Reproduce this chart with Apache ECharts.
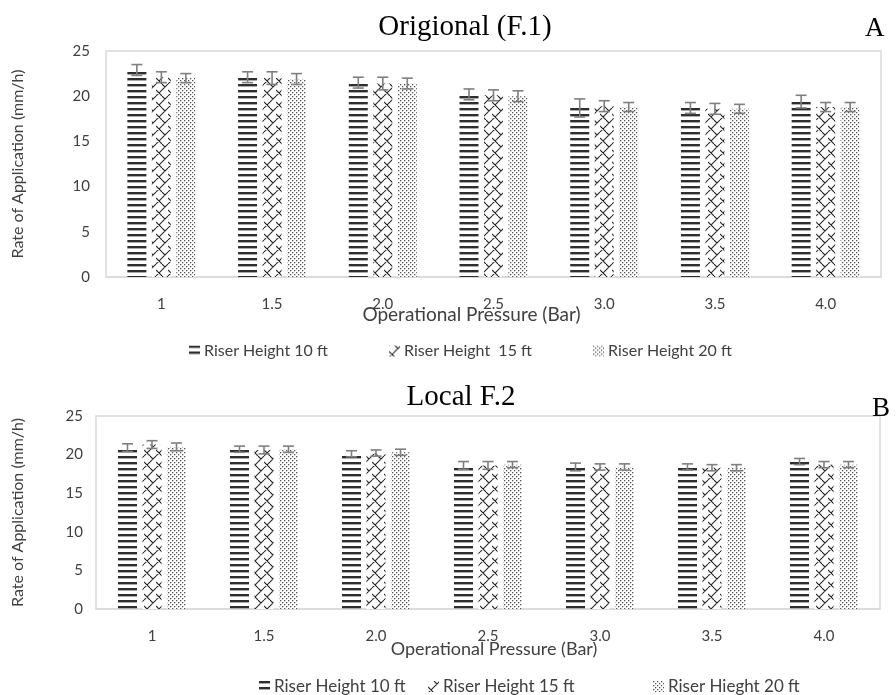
<!DOCTYPE html>
<html>
<head>
<meta charset="utf-8">
<script src="https://cdn.jsdelivr.net/npm/echarts@6/dist/echarts.min.js"></script>
<style>
  html, body { margin: 0; padding: 0; background: #fff; }
  #chart { width: 896px; height: 695px; }
</style>
</head>
<body>
<div id="chart"></div>
<script>
// Operating pressures (Bar)
const pressures = ['1', '1.5', '2.0', '2.5', '3.0', '3.5', '4.0'];
const yTicks = [0, 5, 10, 15, 20, 25];

// Sprinkler F.1 (original) — mean rate of application, mm/h
const origH10 = [22.9, 22.1, 21.5, 20.2, 18.7, 18.7, 19.4];
const origH15 = [22.1, 22.0, 21.4, 20.1, 18.9, 18.6, 18.8];
const origH20 = [22.0, 21.9, 21.4, 20.0, 18.8, 18.6, 18.8];
const origErr10 = [0.6, 0.6, 0.6, 0.6, 1.0, 0.6, 0.7];
const origErr15 = [0.6, 0.7, 0.7, 0.6, 0.6, 0.6, 0.5];
const origErr20 = [0.5, 0.6, 0.6, 0.6, 0.5, 0.5, 0.5];

// Sprinkler F.2 (local) — mean rate of application, mm/h
const localH10 = [20.9, 20.7, 20.1, 18.6, 18.4, 18.4, 19.1];
const localH15 = [21.3, 20.6, 20.2, 18.6, 18.4, 18.3, 18.7];
const localH20 = [21.0, 20.7, 20.3, 18.7, 18.4, 18.3, 18.7];
const localErr10 = [0.5, 0.4, 0.4, 0.5, 0.5, 0.4, 0.4];
const localErr15 = [0.5, 0.5, 0.4, 0.5, 0.4, 0.4, 0.4];
const localErr20 = [0.5, 0.4, 0.4, 0.4, 0.4, 0.4, 0.4];

const BAR_W = 19;
const BAR_GAP = 5.5;
const SANS = 'Lato, "Open Sans", sans-serif';
const SERIF = '"Liberation Serif", "DejaVu Serif", serif';
const INK = '#404040';

// ---- fill patterns ----
function makeTile(w, h, draw) {
  const c = document.createElement('canvas');
  c.width = w; c.height = h;
  const ctx = c.getContext('2d');
  ctx.fillStyle = '#fff';
  ctx.fillRect(0, 0, w, h);
  draw(ctx);
  return { image: c, repeat: 'repeat' };
}
const stripes = makeTile(8, 6, ctx => {
  ctx.fillStyle = '#2e2e2e';
  ctx.fillRect(0, 0, 8, 2.4);
});
const lattice = makeTile(12, 12, ctx => {
  ctx.strokeStyle = '#2a2a2a';
  ctx.lineWidth = 1.1;
  ctx.beginPath();
  ctx.moveTo(0, 12); ctx.lineTo(12, 0);
  ctx.moveTo(-6, 6); ctx.lineTo(0, 0);
  ctx.moveTo(12, 12); ctx.lineTo(18, 6);
  ctx.moveTo(0, 6); ctx.lineTo(6, 12);
  ctx.moveTo(6, 0); ctx.lineTo(9, 3);
  ctx.stroke();
});
const dots = makeTile(4, 4, ctx => {
  ctx.fillStyle = '#555';
  ctx.fillRect(0, 0, 1.3, 1.3);
  ctx.fillRect(2, 2, 1.3, 1.3);
});

// ---- series builders ----
function barSeries(name, values, fill, axis) {
  return {
    name, type: 'bar', data: values,
    xAxisIndex: axis, yAxisIndex: axis,
    barWidth: BAR_W, barGap: (BAR_GAP / BAR_W * 100).toFixed(1) + '%',
    itemStyle: { color: fill },
    emphasis: { disabled: true }
  };
}
function errorSeries(means, errs, slot, axis) {
  return {
    type: 'custom', xAxisIndex: axis, yAxisIndex: axis, z: 10,
    silent: true,
    data: means.map((m, i) => [i, m, errs[i]]),
    encode: { x: 0, y: 1 },
    renderItem(params, api) {
      const i = api.value(0), m = api.value(1), e = api.value(2);
      const x = api.coord([i, m])[0] + (slot - 1) * (BAR_W + BAR_GAP);
      const yTop = api.coord([i, m + e])[1];
      const yBot = api.coord([i, m - e])[1];
      const half = 5.5;
      const style = { stroke: '#7f7f7f', lineWidth: 1.6 };
      return {
        type: 'group',
        children: [
          { type: 'line', shape: { x1: x, y1: yTop, x2: x, y2: yBot }, style },
          { type: 'line', shape: { x1: x - half, y1: yTop, x2: x + half, y2: yTop }, style },
          { type: 'line', shape: { x1: x - half, y1: yBot, x2: x + half, y2: yBot }, style }
        ]
      };
    }
  };
}

// shift > 0 moves the axis name left, < 0 moves it right
function xAxisFor(gridIndex, margin, nameGap, shift, nameSize) {
  const pad = shift >= 0 ? [0, shift * 2, 0, 0] : [0, 0, 0, -shift * 2];
  return {
    type: 'category', gridIndex, data: pressures,
    axisTick: { show: false },
    axisLine: { lineStyle: { color: '#d9d9d9', width: 1.5 } },
    axisLabel: { color: INK, fontSize: 15, fontFamily: SANS, margin },
    name: 'Operational Pressure (Bar)', nameLocation: 'middle', nameGap,
    nameMoveOverlap: false,
    nameTextStyle: { color: INK, fontSize: nameSize, fontFamily: SANS, padding: pad }
  };
}
function yAxisFor(gridIndex, margin, nameGap) {
  return {
    type: 'value', gridIndex, min: yTicks[0], max: yTicks[yTicks.length - 1],
    interval: yTicks[1] - yTicks[0],
    splitLine: { show: false },
    axisLine: { show: false }, axisTick: { show: false },
    axisLabel: { color: INK, fontSize: 15, fontFamily: SANS, margin },
    name: 'Rate of Application (mm/h)', nameLocation: 'middle', nameGap,
    nameMoveOverlap: false,
    nameTextStyle: { color: INK, fontSize: 16, fontFamily: SANS }
  };
}

function legendItem(name, fill, left, top, size) {
  return {
    data: [{ name, itemStyle: { color: fill } }],
    left, top, itemWidth: 11, itemHeight: 11, itemGap: 0,
    icon: 'rect', selectedMode: false,
    textStyle: { color: INK, fontSize: size, fontFamily: SANS, padding: [0, 0, 0, -1] }
  };
}

const T1 = ['Riser Height 10 ft', 'Riser Height  15 ft', 'Riser Height 20 ft'];
const T2 = ['Riser Height 10 ft', 'Riser Height 15 ft', 'Riser Hieght 20 ft'];

const option = {
  backgroundColor: '#fff',
  animation: false,
  title: [
    { text: 'Origional (F.1)', left: 460, top: 8, textAlign: 'center',
      textStyle: { fontFamily: SERIF, fontSize: 29, fontWeight: 'normal', color: '#000' } },
    { text: 'A', left: 860, top: 10,
      textStyle: { fontFamily: SERIF, fontSize: 27, fontWeight: 'normal', color: '#000' } },
    { text: 'Local F.2', left: 456, top: 378, textAlign: 'center',
      textStyle: { fontFamily: SERIF, fontSize: 29, fontWeight: 'normal', color: '#000' } },
    { text: 'B', left: 867, top: 390,
      textStyle: { fontFamily: SERIF, fontSize: 27, fontWeight: 'normal', color: '#000' } }
  ],
  legend: [
    legendItem(T1[0], stripes, 184, 338, 16),
    legendItem(T1[1], lattice, 384, 338, 16),
    legendItem(T1[2], dots, 588, 338, 16),
    legendItem(T2[0], stripes, 254, 673, 17),
    legendItem(T2[1], lattice, 423, 673, 17),
    legendItem(T2[2], dots, 648, 673, 17)
  ],
  grid: [
    { left: 106, right: 15, top: 51, bottom: 418, show: true, borderColor: '#d9d9d9', borderWidth: 1.5 },
    { left: 96, right: 16, top: 416, bottom: 86, show: true, borderColor: '#d9d9d9', borderWidth: 1.5 }
  ],
  xAxis: [xAxisFor(0, 20, 28, 22, 19), xAxisFor(1, 20, 31, -6, 18)],
  yAxis: [yAxisFor(0, 16, 80), yAxisFor(1, 13, 70)],
  series: [
    barSeries(T1[0], origH10, stripes, 0),
    barSeries(T1[1], origH15, lattice, 0),
    barSeries(T1[2], origH20, dots, 0),
    errorSeries(origH10, origErr10, 0, 0),
    errorSeries(origH15, origErr15, 1, 0),
    errorSeries(origH20, origErr20, 2, 0),
    barSeries(T2[0], localH10, stripes, 1),
    barSeries(T2[1], localH15, lattice, 1),
    barSeries(T2[2], localH20, dots, 1),
    errorSeries(localH10, localErr10, 0, 1),
    errorSeries(localH15, localErr15, 1, 1),
    errorSeries(localH20, localErr20, 2, 1)
  ]
};

const chart = echarts.init(document.getElementById('chart'), null, { renderer: 'canvas' });
chart.setOption(option);
</script>
</body>
</html>
